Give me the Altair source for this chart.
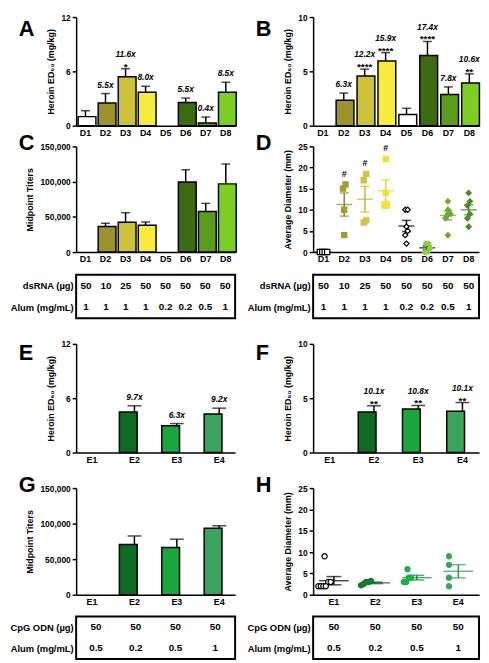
import altair as alt
import pandas as pd
import math

FONT = "Liberation Sans"

# ---------------- categories ----------------
d_groups = ["D1", "D2", "D3", "D4", "D5", "D6", "D7", "D8"]
e_groups = ["E1", "E2", "E3", "E4"]

# ---------------- colours ----------------
d_bar_colors = ["#ffffff", "#9c932c", "#cbc23a", "#f7ec3c", "#ffffff", "#3d6b14", "#5c9c1c", "#7ccf22"]
d_dot_fill = ["#ffffff", "#a59d33", "#cfc53f", "#efe232", "#ffffff", "#8ccf3a", "#6aab2d", "#4b8a25"]
d_dot_stroke = ["#000000", "#a59d33", "#cfc53f", "#efe232", "#000000", "#8ccf3a", "#6aab2d", "#4b8a25"]
d_dot_shape = ["square", "square", "square", "square", "diamond", "diamond", "diamond", "diamond"]
d_mean_color = ["#000000", "#8f8826", "#c2b932", "#e3d52a", "#000000", "#000000", "#5e9f24", "#447f20"]

e_bar_colors = ["#ffffff", "#0e6b24", "#19a63c", "#3ca35e"]
e_dot_fill = ["#ffffff", "#117a2d", "#21ae48", "#3aa55d"]
e_dot_stroke = ["#000000", "#117a2d", "#21ae48", "#3aa55d"]
e_dot_shape = ["circle", "circle", "circle", "circle"]
e_mean_color = ["#000000", "#0d5e20", "#17853a", "#2f9a52"]

# ---------------- panel A : Heroin ED50 (first test) ----------------
a_mean = [1.0, 2.5, 5.4, 3.7, 0, 2.55, 0.3, 3.7]
a_err = [1.65, 3.55, 6.3, 4.35, 0, 3.05, 0.95, 4.8]
a_fold = ["", "5.5x", "11.6x", "8.0x", "", "5.5x", "0.4x", "8.5x"]
a_stars = ["", "", "*", "", "", "", "", ""]

# ---------------- panel B : Heroin ED50 (second test) ----------------
b_mean = [0, 2.35, 4.58, 5.95, 1.02, 6.47, 2.88, 3.93]
b_err = [0, 3.0, 5.2, 6.72, 1.6, 7.75, 3.57, 4.77]
b_fold = ["", "6.3x", "12.2x", "15.9x", "", "17.4x", "7.8x", "10.6x"]
b_stars = ["", "", "****", "****", "", "****", "", "**"]

# ---------------- panel C : midpoint titers ----------------
c_mean = [0, 36400, 42300, 38200, 0, 99500, 57700, 96800]
c_err = [0, 40900, 55900, 42700, 0, 116800, 69100, 125000]

# ---------------- panel D : injection-site diameter ----------------
d_pts_D1 = [0, 0, 0, 0]
d_pts_D2 = [15, 16, 10, 4]
d_pts_D3 = [18.5, 17, 7, 7.5]
d_pts_D4 = [22, 14, 11, 11]
d_pts_D5 = [10, 10, 6, 5, 4, 2]
d_pts_D6 = [2, 2, 1, 0, 0]
d_pts_D7 = [12, 10, 9, 9, 8, 4]
d_pts_D8 = [14, 12, 11, 9, 8, 6]
d_sig = ["", "#", "#", "#", "", "", "", ""]

# ---------------- table under C / D ----------------
t1_rows = ["dsRNA (µg)", "Alum (mg/mL)"]
t1_dsrna = ["50", "10", "25", "50", "50", "50", "50", "50"]
t1_alum = ["1", "1", "1", "1", "0.2", "0.2", "0.5", "1"]

# ---------------- panel E / F ----------------
e_mean = [0, 4.47, 2.95, 4.25]
e_err = [0, 5.16, 3.2, 4.9]
e_fold = ["", "9.7x", "6.3x", "9.2x"]
e_stars = ["", "", "", ""]

f_mean = [0, 3.73, 4.0, 3.79]
f_err = [0, 4.3, 4.33, 4.6]
f_fold = ["", "10.1x", "10.8x", "10.1x"]
f_stars = ["", "**", "**", "**"]

# ---------------- panel G ----------------
g_mean = [0, 70500, 66500, 93500]
g_err = [0, 82600, 78100, 97000]

# ---------------- panel H ----------------
h_pts_E1 = [9, 3, 3, 2, 2, 2, 2]
h_pts_E2 = [2.2, 2.5, 3, 3, 3.2]
h_pts_E3 = [6, 4, 4, 3, 3]
h_pts_E4 = [9, 7, 4, 2]
h_sig = ["", "", "", ""]

# ---------------- table under G / H ----------------
t3_rows = ["CpG ODN (µg)", "Alum (mg/mL)"]
t3_cpg = ["50", "50", "50", "50"]
t3_alum = ["0.5", "0.2", "0.5", "1"]

ED50_TITLE = "Heroin ED\u2085\u2080 (mg/kg)"


def letter_title(letter, dy, dx=-58):
    return alt.TitleParams(letter, anchor="start", frame="group", orient="top",
                           fontSize=22, fontWeight="bold", font=FONT, color="black",
                           dx=dx, dy=dy, offset=0, baseline="top")


def xenc(groups, pi, po, show=True):
    return alt.X("group:N", sort=groups,
                 scale=alt.Scale(domain=groups, paddingInner=pi, paddingOuter=po),
                 axis=alt.Axis(title=None, labelAngle=0, ticks=False, labelPadding=3,
                               labelFontSize=9) if show else None)


def bar_panel(groups, colors, means, errs, folds, stars, ymax, yticks, ytitle, fmt,
              letter, ldy, width, height, pi, po, cap):
    df = pd.DataFrame({"group": groups, "mean": means, "err": errs,
                       "fold": folds, "stars": stars, "color": colors})
    x = xenc(groups, pi, po)

    def y(field):
        return alt.Y(field + ":Q", scale=alt.Scale(domain=[0, ymax], nice=False),
                     axis=alt.Axis(values=yticks, format=fmt, title=ytitle))

    base = alt.Chart(df).transform_filter("datum.mean > 0")
    rule = base.mark_rule(color="black", strokeWidth=1.5).encode(x=x, y=y("mean"), y2="err:Q")
    capm = base.mark_tick(color="black", size=cap, thickness=1.5).encode(x=x, y=y("err"))
    bars = base.mark_bar(stroke="black", strokeWidth=1.5).encode(
        x=x, y=y("mean"), fill=alt.Fill("color:N", scale=None))
    star_t = base.mark_text(font=FONT, fontSize=10, fontWeight="bold", baseline="alphabetic",
                            dy=1, color="black").encode(x=x, y=y("err"), text="stars:N")
    fold_s = base.transform_filter("datum.stars != ''").mark_text(
        font=FONT, fontSize=8.5, fontWeight="bold", fontStyle="italic",
        baseline="alphabetic", dy=-12, color="black").encode(x=x, y=y("err"), text="fold:N")
    fold_n = base.transform_filter("datum.stars == ''").mark_text(
        font=FONT, fontSize=8.5, fontWeight="bold", fontStyle="italic",
        baseline="alphabetic", dy=-6, color="black").encode(x=x, y=y("err"), text="fold:N")
    return alt.layer(rule, capm, bars, star_t, fold_s, fold_n).properties(
        width=width, height=height, title=letter_title(letter, ldy))


def spread(vals, tol):
    order = sorted(range(len(vals)), key=lambda i: vals[i])
    clusters = []
    for i in order:
        if clusters and vals[i] - vals[clusters[-1][0]] <= tol:
            clusters[-1].append(i)
        else:
            clusters.append([i])
    offs = [0.0] * len(vals)
    for c in clusters:
        k = len(c)
        for j, i in enumerate(c):
            offs[i] = j - (k - 1) / 2
    return offs


def scatter_panel(groups, points, fills, strokes, shapes, mcols, sig, ymax, yticks, ytitle,
                  letter, ldy, width, height, pi, po, tol, px_unit, msize, csize, psize):
    rows, stats = [], []
    for g, vals, f, s, sh, mc, sg in zip(groups, points, fills, strokes, shapes, mcols, sig):
        offs = spread(vals, tol)
        for v, o in zip(vals, offs):
            rows.append({"group": g, "value": v, "off": o, "fill": f, "stroke": s, "shape": sh})
        n = len(vals)
        m = sum(vals) / n
        sd = math.sqrt(sum((v - m) ** 2 for v in vals) / (n - 1)) if n > 1 else 0
        se = sd / math.sqrt(n)
        stats.append({"group": g, "mean": m, "lo": m - se, "hi": m + se, "mcol": mc,
                      "sig": sg, "top": max(vals)})
    dp = pd.DataFrame(rows)
    ds = pd.DataFrame(stats)
    nb = len(groups)
    step = width / (nb - pi + 2 * po)
    half = step * (1 - pi) / 2 / px_unit
    x = xenc(groups, pi, po)

    def y(field):
        return alt.Y(field + ":Q", scale=alt.Scale(domain=[0, ymax], nice=False),
                     axis=alt.Axis(values=yticks, title=ytitle))

    pts = alt.Chart(dp).mark_point(filled=True, size=psize, strokeWidth=1.2, opacity=1).encode(
        x=x, xOffset=alt.XOffset("off:Q", scale=alt.Scale(domain=[-half, half])),
        y=y("value"), fill=alt.Fill("fill:N", scale=None),
        stroke=alt.Stroke("stroke:N", scale=None), shape=alt.Shape("shape:N", scale=None))
    sb = alt.Chart(ds)
    semr = sb.mark_rule(strokeWidth=1.5).encode(x=x, y=y("lo"), y2="hi:Q",
                                                color=alt.Color("mcol:N", scale=None))
    capl = sb.mark_tick(size=csize, thickness=1.5).encode(x=x, y=y("lo"),
                                                          color=alt.Color("mcol:N", scale=None))
    caph = sb.mark_tick(size=csize, thickness=1.5).encode(x=x, y=y("hi"),
                                                          color=alt.Color("mcol:N", scale=None))
    meant = sb.mark_tick(size=msize, thickness=1.5).encode(x=x, y=y("mean"),
                                                           color=alt.Color("mcol:N", scale=None))
    sigt = sb.mark_text(font=FONT, fontSize=9, fontWeight="bold", baseline="alphabetic",
                        dy=-8, color="black").encode(x=x, y=y("top"), text="sig:N")
    return alt.layer(semr, capl, caph, meant, pts, sigt).properties(
        width=width, height=height, title=letter_title(letter, ldy))


def table(groups, row_names, row_vals, width, height, pi, po):
    recs = []
    for rn, vals in zip(row_names, row_vals):
        for g, v in zip(groups, vals):
            recs.append({"group": g, "row": rn, "val": v})
    df = pd.DataFrame(recs)
    return alt.Chart(df).mark_text(font=FONT, fontSize=10, fontWeight="bold", color="black").encode(
        x=xenc(groups, pi, po, show=False),
        y=alt.Y("row:N", sort=row_names, scale=alt.Scale(domain=row_names),
                axis=alt.Axis(title=None, domain=False, ticks=False, labelFontSize=9.5,
                              labelPadding=3, labelFontWeight="bold", labelColor="black")),
        text="val:N",
    ).properties(width=width, height=height,
                 view=alt.ViewBackground(stroke="black", strokeWidth=2))


WL, WR = 161, 168
PI_D, PO_D = 0.27, 0.1
PI_E, PO_E = 0.29, 0.02
TITERS_FMT = ",.0f"

A = bar_panel(d_groups, d_bar_colors, a_mean, a_err, a_fold, a_stars, 12, [0, 6, 12],
              ED50_TITLE, "d", "A", 28, WL, 110, PI_D, PO_D, 9)
B = bar_panel(d_groups, d_bar_colors, b_mean, b_err, b_fold, b_stars, 10, [0, 5, 10],
              ED50_TITLE, "d", "B", 28, WR, 110, PI_D, PO_D, 9)
C = bar_panel(d_groups, d_bar_colors, c_mean, c_err, ["" for _ in d_groups], ["" for _ in d_groups],
              150000, [0, 50000, 100000, 150000], "Midpoint Titers", TITERS_FMT, "C", 13, WL, 107,
              PI_D, PO_D, 9)
D = scatter_panel(d_groups, [d_pts_D1, d_pts_D2, d_pts_D3, d_pts_D4, d_pts_D5, d_pts_D6,
                             d_pts_D7, d_pts_D8],
                  d_dot_fill, d_dot_stroke, d_dot_shape, d_mean_color, d_sig, 25,
                  [0, 5, 10, 15, 20, 25], "Average Diameter (mm)", "D", 13, WR, 107,
                  0.1, 0.05, 1.5, 7, 16, 9, 28)
T1 = table(d_groups, t1_rows, [t1_dsrna, t1_alum], WL, 44, PI_D, PO_D)
T2 = table(d_groups, t1_rows, [t1_dsrna, t1_alum], WR, 44, PI_D, PO_D)

E = bar_panel(e_groups, e_bar_colors, e_mean, e_err, e_fold, e_stars, 12, [0, 6, 12],
              ED50_TITLE, "d", "E", 25, WL, 110, PI_E, PO_E, 14)
F = bar_panel(e_groups, e_bar_colors, f_mean, f_err, f_fold, f_stars, 10, [0, 5, 10],
              ED50_TITLE, "d", "F", 25, WR, 110, PI_E, PO_E, 14)
G = bar_panel(e_groups, e_bar_colors, g_mean, g_err, ["" for _ in e_groups], ["" for _ in e_groups],
              150000, [0, 50000, 100000, 150000], "Midpoint Titers", TITERS_FMT, "G", 13, WL, 108,
              PI_E, PO_E, 14)
H = scatter_panel(e_groups, [h_pts_E1, h_pts_E2, h_pts_E3, h_pts_E4],
                  e_dot_fill, e_dot_stroke, e_dot_shape, e_mean_color, h_sig, 25,
                  [0, 5, 10, 15, 20, 25], "Average Diameter (mm)", "H", 13, WR, 108,
                  0.1, 0.05, 1.5, 5, 30, 15, 28)
T3 = table(e_groups, t3_rows, [t3_cpg, t3_alum], WL, 43, PI_E, PO_E)
T4 = table(e_groups, t3_rows, [t3_cpg, t3_alum], WR, 43, PI_E, PO_E)

SP = 316 - 76 - WL


def row(l, r):
    return alt.hconcat(l, r, spacing=SP, bounds="flush")


rows = [row(A, B), row(C, D), row(T1, T2), row(E, F), row(G, H), row(T3, T4)]
gaps = [-7, 9, 20, 8, 8]

chart = rows[0]
for r, g in zip(rows[1:], gaps):
    chart = alt.vconcat(chart, r, spacing=g)

chart = chart.properties(
    padding={"left": 0, "top": 0, "right": 0, "bottom": 0}
).configure(font=FONT).configure_view(stroke="transparent").configure_axis(
    domainColor="black", domainWidth=1.5, tickColor="black", tickWidth=1.5, tickSize=4,
    labelColor="black", labelFontWeight="bold", labelFontSize=8.5, labelFont=FONT,
    titleColor="black", titleFontWeight="bold", titleFontSize=9, titleFont=FONT,
    grid=False, labelPadding=2, titlePadding=5
)

chart.save("out.html", embed_options={"renderer": "svg", "actions": False})
